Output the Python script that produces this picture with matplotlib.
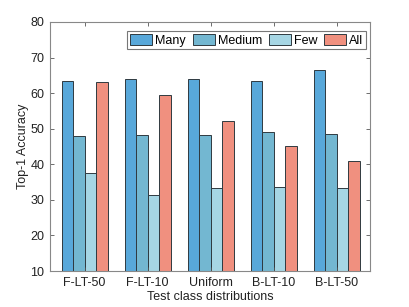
import matplotlib.pyplot as plt
import numpy as np

# 数据
distributions = ['F-LT-50', 'F-LT-10', 'Uniform', 'B-LT-10', 'B-LT-50']
many = [63.5, 64.0, 64.0, 63.4, 66.5]
medium = [47.9, 48.3, 48.3, 49.2, 48.4]
few = [37.6, 31.4, 33.3, 33.7, 33.2]
all_cls = [63.1, 59.6, 52.3, 45.1, 40.9]

series = [('Many', many, '#58a8da'),
          ('Medium', medium, '#73b7d1'),
          ('Few', few, '#a6d6e4'),
          ('All', all_cls, '#f0907f')]

plt.rcParams['font.family'] = ['Liberation Sans', 'DejaVu Sans']

fig = plt.figure(figsize=(4.09, 3.07), dpi=100)
ax = fig.add_axes([50 / 409, 1 - 271 / 307, 320 / 409, 249 / 307])

x = np.arange(1, len(distributions) + 1)
w = 0.182
for i, (name, vals, color) in enumerate(series):
    ax.bar(x + (i - 1.5) * w, vals, width=w, color=color,
           edgecolor='#2f3a40', linewidth=0.7, label=name)

ax.set_xlim(0.45, 5.53)
ax.set_ylim(10, 80)
ax.set_xticks(x)
ax.set_xticklabels(distributions)
ax.set_yticks(np.arange(10, 81, 10))

ax.tick_params(direction='in', top=True, right=True, length=3,
               width=0.6, color='#555555', labelsize=9, labelcolor='#222222', pad=4)
for s in ax.spines.values():
    s.set_color('#888888')
    s.set_linewidth(0.8)

ax.set_xlabel('Test class distributions', fontsize=9, color='#222222', labelpad=2)
ax.set_ylabel('Top-1 Accuracy', fontsize=9, color='#222222', labelpad=1)

leg = ax.legend(ncol=4, loc='upper right', bbox_to_anchor=(0.9875, 0.9635),
                fontsize=9, frameon=True, fancybox=False, edgecolor='#555555',
                handlelength=1.75, handleheight=0.95, handletextpad=0.25,
                columnspacing=0.55, borderpad=0.22, borderaxespad=0.0)
leg.get_frame().set_linewidth(0.8)

fig.savefig('out.png', dpi=100)
